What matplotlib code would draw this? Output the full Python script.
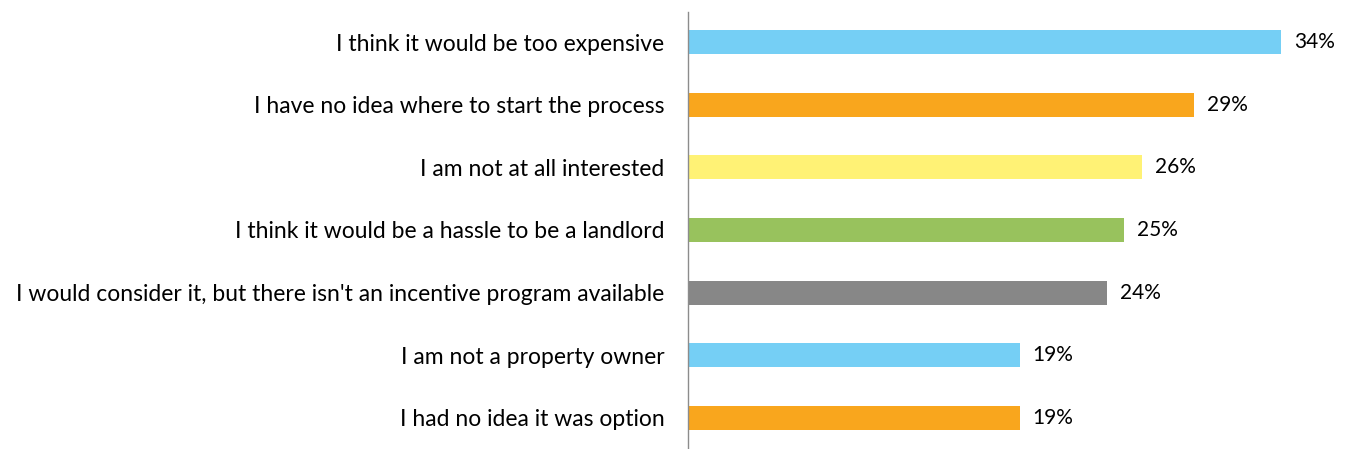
import matplotlib.pyplot as plt

# Survey reasons and shares (%)
reasons = [
    'I think it would be too expensive',
    'I have no idea where to start the process',
    'I am not at all interested',
    'I think it would be a hassle to be a landlord',
    "I would consider it, but there isn't an incentive program available",
    'I am not a property owner',
    'I had no idea it was option',
]
shares = [34, 29, 26, 25, 24, 19, 19]
colors = ['#75CFF5', '#F9A61D', '#FFF275', '#98C25D', '#878787', '#75CFF5', '#F9A61D']

plt.rcParams['font.family'] = ['Lato', 'DejaVu Sans']

fig = plt.figure(figsize=(13.46, 4.49), dpi=100)
ax = fig.add_axes([688 / 1346, 0, 658 / 1346, 437 / 449])

ypos = list(range(len(reasons)))
ax.barh(ypos, shares, height=0.383, color=colors)

ax.set_xlim(0, 658 / 17.45)
ax.set_ylim(6.495, -0.479)

ax.set_yticks(ypos)
ax.set_yticklabels(reasons, fontsize=16.5, color='#000000')
ax.tick_params(axis='y', length=0, pad=17)
ax.set_xticks([])

for s in ['top', 'right', 'bottom']:
    ax.spines[s].set_visible(False)
ax.spines['left'].set_color('#8C8C8C')
ax.spines['left'].set_linewidth(1)

for y, v in zip(ypos, shares):
    ax.text(v + 0.75, y, f'{v}%', va='center', ha='left', fontsize=15, color='#000000')

fig.savefig('out.png', dpi=100)
